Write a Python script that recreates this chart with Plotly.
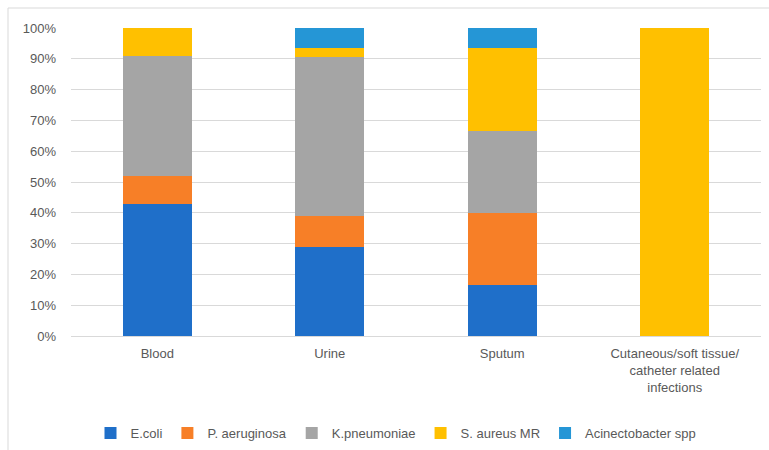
import plotly.graph_objects as go

categories = ["Blood", "Urine", "Sputum",
              "Cutaneous/soft tissue/<br>catheter related<br>infections"]
series_names = ["E.coli", "P. aeruginosa", "K.pneumoniae", "S. aureus MR", "Acinectobacter spp"]
ecoli = [0.43, 0.29, 0.167, 0.0]
paeruginosa = [0.09, 0.10, 0.233, 0.0]
kpneumoniae = [0.39, 0.515, 0.267, 0.0]
saureus = [0.09, 0.03, 0.267, 1.0]
acinecto = [0.0, 0.065, 0.066, 0.0]
y_ticks = [0, 0.1, 0.2, 0.3, 0.4, 0.5, 0.6, 0.7, 0.8, 0.9, 1.0]

colors = ["#1F6FC9", "#F77F27", "#A5A5A5", "#FFC000", "#2596D6"]
values = [ecoli, paeruginosa, kpneumoniae, saureus, acinecto]

FONT = "Liberation Sans, Arial, sans-serif"
TXT = "#595959"

fig = go.Figure()
for name, vals, col in zip(series_names, values, colors):
    fig.add_trace(go.Bar(name=name, x=categories, y=vals, marker_color=col,
                         marker_line_width=0))

W, H = 769, 450
L, R, T, B = 71, 8, 28, 114
pw, ph = W - L - R, H - T - B

def px_x(p):
    return (p - L) / pw

def px_y(p):
    return (H - B - p) / ph

fig.update_layout(
    width=W, height=H,
    margin=dict(l=L, r=R, t=T, b=B, autoexpand=False),
    barmode="stack", bargap=0.60,
    paper_bgcolor="white", plot_bgcolor="white",
    font=dict(family=FONT, size=13, color=TXT),
    showlegend=True,
    legend=dict(orientation="h", x=px_x(396), xanchor="center",
                y=px_y(433), yanchor="middle",
                font=dict(family=FONT, size=13, color=TXT),
                itemwidth=30, traceorder="normal"),
    xaxis=dict(showgrid=False, showline=False, ticks="", ticklabelstandoff=8,
               tickfont=dict(family=FONT, size=13, color=TXT)),
    yaxis=dict(range=[0, 1], tickvals=y_ticks, tickformat=".0%",
               showgrid=True, gridcolor="#D9D9D9", gridwidth=1,
               zeroline=True, zerolinecolor="#D9D9D9", zerolinewidth=1,
               showline=False, ticks="", ticklabelstandoff=14,
               tickfont=dict(family=FONT, size=13, color=TXT)),
    shapes=[
        dict(type="line", xref="paper", yref="paper",
             x0=px_x(8), x1=px_x(800), y0=px_y(8), y1=px_y(8),
             line=dict(color="#D9D9D9", width=1)),
        dict(type="line", xref="paper", yref="paper",
             x0=px_x(8), x1=px_x(8), y0=px_y(8), y1=px_y(470),
             line=dict(color="#D9D9D9", width=1)),
    ],
)

fig.write_html("out.html")
